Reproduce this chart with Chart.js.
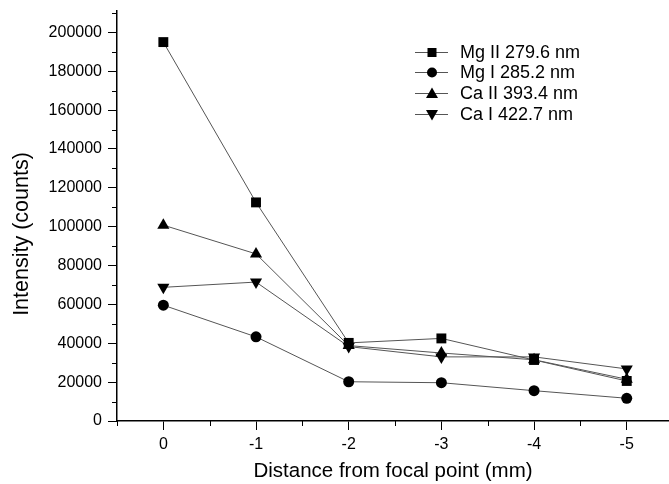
<!DOCTYPE html>
<html>
<head>
<meta charset="utf-8">
<script src="https://cdn.jsdelivr.net/npm/chart.js@4/dist/chart.umd.min.js"></script>
<style>
    body { margin: 0; background: #fff; }
    #wrap { width: 669px; height: 484px; }
</style>
</head>
<body>
<div id="wrap"><canvas id="chart" width="669" height="484"></canvas></div>
<script>
// Data
const distances = [0, -1, -2, -3, -4, -5];
const mgII = [195000, 112500, 40200, 42500, 31400, 20600];
const mgI = [59600, 43300, 20200, 19700, 15600, 11700];
const caII = [100800, 86000, 38800, 35000, 31500, 21500];
const caI = [68800, 71500, 38300, 33000, 33000, 26800];

const seriesNames = ['Mg II 279.6 nm', 'Mg I 285.2 nm', 'Ca II 393.4 nm', 'Ca I 422.7 nm'];
const xTickValues = [0, -1, -2, -3, -4, -5];
const yTickValues = [0, 20000, 40000, 60000, 80000, 100000, 120000, 140000, 160000, 180000, 200000];
const yTitle = 'Intensity (counts)';

const FONT = "'Liberation Sans', Arial, sans-serif";

function toPoints(values) {
    return distances.map((d, i) => ({ x: d, y: values[i] }));
}

function makeSet(label, values, style, rotation, radius) {
    return {
        label: label,
        data: toPoints(values),
        borderColor: '#555',
        borderWidth: 1,
        pointStyle: style,
        rotation: rotation,
        pointRadius: radius,
        pointBackgroundColor: '#000',
        pointBorderColor: '#000',
        pointBorderWidth: 0,
        showLine: true,
        tension: 0
    };
}

// draws one marker shape for the legend
function drawMarker(ctx, style, rotation, x, y) {
    ctx.fillStyle = '#000';
    ctx.beginPath();
    if (style === 'rect') {
        ctx.rect(x - 4.5, y - 4.5, 9, 9);
    } else if (style === 'circle') {
        ctx.arc(x, y, 5, 0, Math.PI * 2);
    } else {
        const s = rotation === 180 ? -1 : 1;
        ctx.moveTo(x, y - 6 * s);
        ctx.lineTo(x + 6, y + 4.5 * s);
        ctx.lineTo(x - 6, y + 4.5 * s);
        ctx.closePath();
    }
    ctx.fill();
}

const legendPlugin = {
    id: 'boxLegend',
    afterDraw(chart) {
        const ctx = chart.ctx;
        ctx.save();
        ctx.font = '18px ' + FONT;
        ctx.textBaseline = 'middle';
        chart.data.datasets.forEach((ds, i) => {
            const y = Math.round(51.5 + i * 20.7) + 0.5;
            ctx.strokeStyle = '#555';
            ctx.lineWidth = 1;
            ctx.beginPath();
            ctx.moveTo(415, y);
            ctx.lineTo(448, y);
            ctx.stroke();
            drawMarker(ctx, ds.pointStyle, ds.rotation, 432, y);
            ctx.fillStyle = '#000';
            ctx.fillText(ds.label, 460, y + 1);
        });
        ctx.restore();
    }
};

// y title sits a bit below the axis middle in the source, so draw it here
const yTitlePlugin = {
    id: 'yTitle',
    afterDraw(chart) {
        const ctx = chart.ctx;
        ctx.save();
        ctx.translate(22, 234);
        ctx.rotate(-Math.PI / 2);
        ctx.font = '21.5px ' + FONT;
        ctx.fillStyle = '#000';
        ctx.textAlign = 'center';
        ctx.textBaseline = 'middle';
        ctx.fillText(yTitle, 0, 0);
        ctx.restore();
    }
};

// minor ticks between the labelled ones
const minorTicks = {
    id: 'minorTicks',
    afterDraw(chart) {
        const ctx = chart.ctx;
        const xs = chart.scales.x;
        const ys = chart.scales.y;
        ctx.save();
        ctx.strokeStyle = '#000';
        ctx.lineWidth = 1;
        ctx.beginPath();
        for (let i = 0; i < xTickValues.length; i++) {
            const px = Math.round(xs.getPixelForValue(xTickValues[i] + 0.5)) + 0.5;
            ctx.moveTo(px, ys.bottom);
            ctx.lineTo(px, ys.bottom + 5);
        }
        for (let i = 0; i < yTickValues.length; i++) {
            const py = Math.round(ys.getPixelForValue(yTickValues[i] + 10000)) + 0.5;
            ctx.moveTo(xs.left, py);
            ctx.lineTo(xs.left - 5, py);
        }
        ctx.stroke();
        ctx.restore();
    }
};

new Chart(document.getElementById('chart'), {
    type: 'scatter',
    data: {
        datasets: [
            makeSet(seriesNames[0], mgII, 'rect', 0, 7),
            makeSet(seriesNames[1], mgI, 'circle', 0, 5.5),
            makeSet(seriesNames[2], caII, 'triangle', 0, 7),
            makeSet(seriesNames[3], caI, 'triangle', 180, 7)
        ]
    },
    options: {
        responsive: false,
        animation: false,
        layout: { autoPadding: false, padding: { top: 11, right: 0, left: 0, bottom: 0 } },
        plugins: {
            legend: { display: false },
            tooltip: { enabled: false }
        },
        scales: {
            x: {
                type: 'linear',
                reverse: true,
                min: -5.456,
                max: 0.5,
                afterBuildTicks(scale) {
                    scale.ticks = xTickValues.map(v => ({ value: v }));
                },
                afterFit(scale) {
                    scale.height = 63;
                    scale.paddingLeft = 0;
                    scale.paddingRight = 0;
                },
                grid: {
                    drawOnChartArea: false,
                    color: '#000',
                    tickLength: 9,
                    tickColor: '#000'
                },
                border: { color: '#000', width: 1.5 },
                ticks: {
                    color: '#000',
                    font: { family: FONT, size: 16 },
                    padding: 5,
                    maxRotation: 0,
                    callback: v => String(v)
                },
                title: {
                    display: true,
                    text: 'Distance from focal point (mm)',
                    color: '#000',
                    font: { family: FONT, size: 20.5 },
                    padding: { top: 4, bottom: 0 }
                }
            },
            y: {
                min: 0,
                max: 211000,
                afterBuildTicks(scale) {
                    scale.ticks = yTickValues.map(v => ({ value: v }));
                },
                afterFit(scale) {
                    scale.width = 117;
                    scale.paddingTop = 0;
                    scale.paddingBottom = 0;
                },
                grid: {
                    drawOnChartArea: false,
                    color: '#000',
                    tickLength: 9,
                    tickColor: '#000'
                },
                border: { color: '#000', width: 1.5 },
                ticks: {
                    color: '#000',
                    font: { family: FONT, size: 16 },
                    padding: 6,
                    callback: v => String(v)
                }
            }
        }
    },
    plugins: [legendPlugin, yTitlePlugin, minorTicks]
});
</script>
</body>
</html>
